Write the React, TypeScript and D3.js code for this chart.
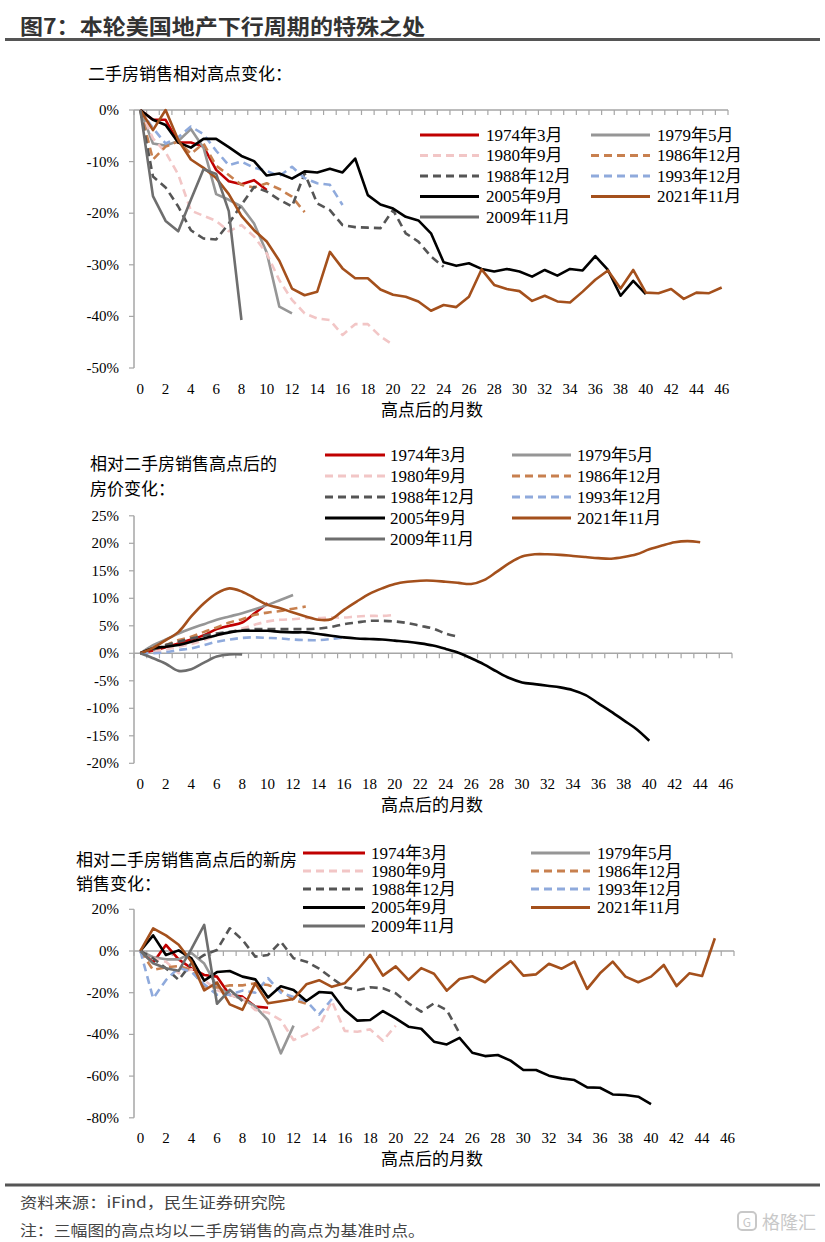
import React from 'react';
import * as d3 from 'd3';

// categories: months after the existing-home-sales peak
const months = d3.range(0, 47);
const monthLabels = d3.range(0, 47, 2);

const seriesNames = ['1974年3月', '1979年5月', '1980年9月', '1986年12月', '1988年12月', '1993年12月', '2005年9月', '2021年11月', '2009年11月'];
const seriesColors = ['#C00000', '#969696', '#F2C6C6', '#C8804F', '#555555', '#8FAADC', '#000000', '#A4501C', '#6E6E6E'];
const seriesDashed = [false, false, true, true, true, true, false, false, false];

// chart 1: existing home sales vs. peak (%)
const sales1974 = [0, -1.9, -1.9, -6.3, -6.3, -7.1, -11.6, -13.8, -14.4, -13.6, -15.5];
const sales1979 = [0, -6.5, -6.9, -6.0, -3.7, -7.3, -16.3, -17.4, -18.7, -22.0, -27.6, -38.1, -39.4];
const sales1980 = [0, -5.5, -8.2, -12.5, -19.5, -20.5, -21.5, -23.5, -22.3, -24.5, -27.8, -33.0, -36.8, -39.4, -40.4, -40.7, -43.6, -41.5, -41.5, -43.9, -45.5];
const sales1986 = [0, -9.6, -7.1, -6.1, -8.5, -6.5, -10.8, -12.6, -14.5, -15.0, -14.2, -15.3, -16.8, -19.8];
const sales1988 = [0, -12.9, -15.0, -18.7, -23.3, -24.9, -25.1, -22.0, -18.4, -14.9, -15.8, -17.4, -18.7, -12.3, -18.1, -19.4, -22.3, -22.7, -22.8, -22.9, -19.4, -23.9, -25.5, -28.4, -30.4];
const sales1993 = [0, -3.5, -6.5, -5.3, -3.2, -4.7, -7.9, -10.7, -10.0, -11.2, -11.8, -12.8, -11.0, -13.2, -14.2, -14.5, -18.4];
const sales2005 = [0, -1.9, -2.9, -6.3, -7.3, -5.6, -5.6, -7.2, -8.9, -9.9, -12.7, -12.3, -13.3, -11.9, -12.1, -11.4, -12.1, -9.4, -16.5, -18.3, -19.1, -20.7, -21.4, -23.9, -29.5, -30.2, -29.7, -30.8, -31.3, -30.8, -31.3, -32.3, -31.0, -32.1, -30.8, -31.1, -28.3, -31.0, -36.0, -33.1, -35.7];
const sales2021 = [0, -3.9, 0, -5.8, -9.6, -11.2, -13.2, -16.3, -20.5, -23.3, -25.5, -29.2, -34.6, -35.9, -35.2, -27.5, -30.7, -32.6, -32.6, -34.8, -35.8, -36.2, -37.1, -38.9, -37.8, -38.2, -36.2, -30.9, -33.9, -34.7, -35.1, -37.0, -36.0, -37.1, -37.3, -35.2, -32.9, -31.1, -34.6, -31.0, -35.4, -35.5, -34.7, -36.6, -35.4, -35.5, -34.4];
const sales2009 = [0, -16.7, -21.5, -23.5, -17.4, -11.5, -12.4, -19.6, -40.7];

// chart 2: home prices after the sales peak (%)
const price1974 = [0, 0.5, 1.1, 1.8, 2.5, 3.3, 4.4, 5.0, 5.6, 7.3, 9.1];
const price1979 = [0, 1.5, 2.5, 3.6, 4.5, 5.3, 6.1, 6.7, 7.3, 8.0, 8.8, 9.7, 10.6];
const price1980 = [0, 0.3, 0.7, 1.2, 1.7, 2.4, 3.2, 3.8, 4.5, 5.2, 5.8, 6.1, 6.2, 6.4, 6.4, 6.5, 6.5, 6.7, 6.8, 6.8, 7.0];
const price1986 = [0, 0.7, 1.5, 2.4, 3.0, 3.9, 4.7, 5.6, 6.2, 7.0, 7.4, 7.7, 8.1, 8.5];
const price1988 = [0, 0.7, 1.5, 2.1, 2.7, 3.2, 3.6, 3.9, 4.2, 4.4, 4.4, 4.4, 4.4, 4.4, 4.5, 4.8, 5.3, 5.6, 5.9, 5.9, 5.8, 5.5, 5.0, 4.5, 3.6, 3.0];
const price1993 = [0, 0, 0.2, 0.6, 0.9, 1.5, 2.1, 2.5, 2.8, 2.9, 2.8, 2.7, 2.5, 2.4, 2.4, 2.6, 2.9];
const price2005 = [0, 0.9, 1.2, 1.5, 2.1, 2.7, 3.3, 3.8, 4.1, 4.1, 4.1, 3.9, 3.8, 3.8, 3.5, 3.2, 2.9, 2.7, 2.6, 2.5, 2.3, 2.1, 1.8, 1.4, 0.8, 0.1, -0.9, -2.0, -3.3, -4.5, -5.3, -5.6, -5.9, -6.2, -6.7, -7.6, -9.1, -10.6, -12.2, -13.8, -15.9];
const price2021 = [0, 1.0, 2.4, 3.9, 6.7, 9.1, 10.9, 11.8, 11.2, 10.0, 8.8, 8.2, 7.4, 6.7, 6.1, 6.2, 7.9, 9.4, 10.8, 11.8, 12.6, 13.0, 13.2, 13.2, 13.0, 12.8, 12.6, 13.3, 14.8, 16.4, 17.6, 18.0, 18.0, 17.9, 17.7, 17.5, 17.3, 17.2, 17.5, 18.0, 18.9, 19.6, 20.2, 20.4, 20.2];
const price2009 = [0, -0.9, -1.9, -3.2, -2.9, -1.7, -0.6, -0.2, -0.2];

// chart 3: new home sales after the sales peak (%)
const newSales1974 = [0, -5.5, 2.9, -4.0, -8.3, -11.5, -12.3, -21.1, -21.9, -26.7, -27.2];
const newSales1979 = [0, -3.0, -4.0, -4.0, -1.0, -6.0, -17.0, -21.0, -23.0, -26.7, -33.1, -49.1, -35.8];
const newSales1980 = [0, -3.5, -5.1, -10.7, -8.8, -13.9, -18.7, -21.1, -22.7, -28.3, -29.6, -33.1, -42.7, -40.0, -36.3, -24.0, -38.3, -38.7, -37.6, -43.0, -35.8];
const newSales1986 = [0, -9.1, -7.8, -7.2, -9.1, -17.0, -17.5, -16.5, -16.5, -15.5, -16.3, -18.7, -23.5, -25.3];
const newSales1988 = [0, -3.5, -8.3, -13.9, -5.9, -1.9, 0.5, 10.9, 5.3, -2.7, -1.9, 4.5, -3.5, -5.1, -8.5, -13.0, -17.4, -18.7, -17.4, -17.9, -20.3, -25.1, -29.1, -25.1, -28.3, -39.5];
const newSales1993 = [0, -22.7, -14.0, -8.0, -10.0, -16.0, -21.0, -21.0, -19.0, -20.0, -13.0, -20.0, -22.0, -24.0, -30.5, -23.0];
const newSales2005 = [0, 7.5, -1.9, 0.3, -3.5, -14.2, -10.1, -9.6, -12.3, -13.6, -22.3, -16.9, -18.7, -24.0, -19.7, -20.1, -28.3, -33.4, -33.1, -28.8, -32.3, -36.3, -37.3, -43.5, -44.8, -41.7, -48.8, -50.4, -49.9, -52.6, -57.1, -57.1, -59.8, -61.1, -61.9, -65.4, -65.6, -68.8, -69.1, -69.9, -73.4];
const newSales2021 = [0, 10.9, 7.5, 3.0, -5.1, -18.9, -15.1, -25.6, -28.2, -15.5, -25.1, -24.1, -23.0, -16.0, -14.0, -17.2, -15.5, -9.1, -1.9, -11.8, -7.4, -13.9, -8.2, -10.9, -19.0, -13.4, -12.1, -15.0, -9.6, -4.8, -11.8, -11.2, -6.1, -8.5, -5.1, -18.2, -10.7, -5.1, -12.3, -15.0, -12.3, -6.7, -16.8, -10.7, -12.0, 6.1];
const newSales2009 = [0, -5.9, -8.3, -9.5, 1.0, 12.5, -25.3, -18.6, -24.0];

const salesData = [sales1974, sales1979, sales1980, sales1986, sales1988, sales1993, sales2005, sales2021, sales2009];
const priceData = [price1974, price1979, price1980, price1986, price1988, price1993, price2005, price2021, price2009];
const newSalesData = [newSales1974, newSales1979, newSales1980, newSales1986, newSales1988, newSales1993, newSales2005, newSales2021, newSales2009];

const numFont = '"Liberation Serif", "Times New Roman", "Noto Sans CJK SC", serif';
const cjkFont = '"Noto Sans CJK SC", sans-serif';
const axisColor = '#A6A6A6';

interface PanelProps {
  data: number[][];
  yDomain: [number, number];
  yRange: [number, number];
  yStep: number;
  xRange: [number, number];
  labelY: number;
  titleY: number;
  smooth?: boolean;
  legendRows: number[];
  legendCols: { x1: number; x2: number; tx: number }[];
  heading: { text: string; x: number; y: number }[];
}

const Panel: React.FC<PanelProps> = ({ data, yDomain, yRange, yStep, xRange, labelY, titleY, smooth, legendRows, legendCols, heading }) => {
  const x = d3.scaleBand<number>().domain(months).range(xRange);
  const cx = (m: number) => (x(m) as number) + x.bandwidth() / 2;
  const y = d3.scaleLinear().domain(yDomain).range(yRange);
  const line = d3.line<number>()
    .x((_, i) => cx(i))
    .y(d => y(d))
    .curve(smooth ? d3.curveCatmullRom.alpha(0.5) : d3.curveLinear);
  const yTicks = d3.range(yDomain[0], yDomain[1] + 0.001, yStep);
  const y0 = y(0);
  const boundaries = d3.range(0, months.length + 1).map(k => xRange[0] + k * x.step());

  return (
    <g>
      {heading.map((h, i) => (
        <text key={i} x={h.x} y={h.y} fontFamily={cjkFont} fontSize={17} dominantBaseline="central" fill="#000">{h.text}</text>
      ))}

      {/* y axis */}
      <line x1={xRange[0]} x2={xRange[0]} y1={yRange[0]} y2={yRange[1]} stroke={axisColor} strokeWidth={1.5} />
      {yTicks.map(t => (
        <g key={t}>
          <line x1={xRange[0] - 5} x2={xRange[0]} y1={y(t)} y2={y(t)} stroke={axisColor} strokeWidth={1.2} />
          <text x={119} y={y(t)} textAnchor="end" dominantBaseline="central" fontFamily={numFont} fontSize={15} fill="#000">{`${t}%`}</text>
        </g>
      ))}

      {/* x axis at zero */}
      <line x1={xRange[0]} x2={xRange[1]} y1={y0} y2={y0} stroke={axisColor} strokeWidth={1.5} />
      {boundaries.map((b, i) => (
        <line key={i} x1={b} x2={b} y1={y0} y2={y0 + 5} stroke={axisColor} strokeWidth={1.2} />
      ))}
      {monthLabels.map(m => (
        <text key={m} x={cx(m)} y={labelY} textAnchor="middle" dominantBaseline="central" fontFamily={numFont} fontSize={15} fill="#000">{m}</text>
      ))}
      <text x={432} y={titleY} textAnchor="middle" dominantBaseline="central" fontFamily={cjkFont} fontSize={17} fill="#000">高点后的月数</text>

      {/* series */}
      {data.map((s, i) => (
        <path key={i} d={line(s) || ''} fill="none" stroke={seriesColors[i]} strokeWidth={2.6}
          strokeDasharray={seriesDashed[i] ? '8 5' : undefined} strokeLinejoin="round" />
      ))}

      {/* legend, two columns, row-major */}
      {seriesNames.map((name, i) => {
        const row = Math.floor(i / 2);
        const col = legendCols[i % 2];
        const ly = legendRows[row];
        return (
          <g key={name}>
            <line x1={col.x1} x2={col.x2} y1={ly} y2={ly} stroke={seriesColors[i]} strokeWidth={2.8}
              strokeDasharray={seriesDashed[i] ? '8 5' : undefined} />
            <text x={col.tx} y={ly} dominantBaseline="central" fontFamily={numFont} fontSize={17} fill="#000">{name}</text>
          </g>
        );
      })}
    </g>
  );
};

export default function App() {
  return (
    <svg width={825} height={1242} style={{ position: 'absolute', left: 0, top: 0, background: '#fff' }}>
      <rect x={0} y={0} width={825} height={1242} fill="#fff" />
      <text x={20} y={25} dominantBaseline="central" fontFamily={cjkFont} fontWeight="bold" fontSize={21}
        textLength={405} lengthAdjust="spacingAndGlyphs" fill="#333">图7：本轮美国地产下行周期的特殊之处</text>
      <line x1={5} x2={820} y1={39.5} y2={39.5} stroke="#555" strokeWidth={3} />

      <Panel
        data={salesData}
        yDomain={[-50, 0]}
        yRange={[368, 110]}
        yStep={10}
        xRange={[134, 728]}
        labelY={389}
        titleY={408}
        legendRows={[135, 155.5, 176, 196.5, 217]}
        legendCols={[{ x1: 420, x2: 479, tx: 486 }, { x1: 591, x2: 650, tx: 657 }]}
        heading={[{ text: '二手房销售相对高点变化：', x: 88, y: 72 }]}
      />
      <Panel
        data={priceData}
        yDomain={[-20, 25]}
        yRange={[763.3, 515.8]}
        yStep={5}
        xRange={[134, 732]}
        labelY={784}
        titleY={803}
        smooth
        legendRows={[455, 476, 497, 518, 539]}
        legendCols={[{ x1: 325, x2: 385, tx: 390 }, { x1: 512, x2: 571, tx: 577 }]}
        heading={[{ text: '相对二手房销售高点后的', x: 90, y: 462 }, { text: '房价变化：', x: 90, y: 487 }]}
      />
      <Panel
        data={newSalesData}
        yDomain={[-80, 20]}
        yRange={[1117.8, 909.3]}
        yStep={20}
        xRange={[134, 734]}
        labelY={1138}
        titleY={1157}
        legendRows={[853, 871, 889, 907.5, 926]}
        legendCols={[{ x1: 303, x2: 365, tx: 371 }, { x1: 531, x2: 590, tx: 597 }]}
        heading={[{ text: '相对二手房销售高点后的新房', x: 76, y: 858 }, { text: '销售变化：', x: 76, y: 882 }]}
      />

      <line x1={5} x2={820} y1={1185} y2={1185} stroke="#555" strokeWidth={3} />
      <text x={20} y={1201} dominantBaseline="central" fontFamily={cjkFont} fontSize={15} textLength={265}
        lengthAdjust="spacingAndGlyphs" fill="#444">资料来源：iFind，民生证券研究院</text>
      <text x={20} y={1229} dominantBaseline="central" fontFamily={cjkFont} fontSize={15} textLength={405}
        lengthAdjust="spacingAndGlyphs" fill="#444">注：三幅图的高点均以二手房销售的高点为基准时点。</text>

      {/* watermark */}
      <rect x={738} y={1212} width={18} height={18} rx={4} fill="none" stroke="#C8C8C8" strokeWidth={2} />
      <text x={747} y={1221.5} textAnchor="middle" dominantBaseline="central" fontFamily={cjkFont} fontSize={12} fill="#C8C8C8">G</text>
      <text x={762} y={1221} dominantBaseline="central" fontFamily={cjkFont} fontSize={18} fill="#C8C8C8">格隆汇</text>
    </svg>
  );
}
